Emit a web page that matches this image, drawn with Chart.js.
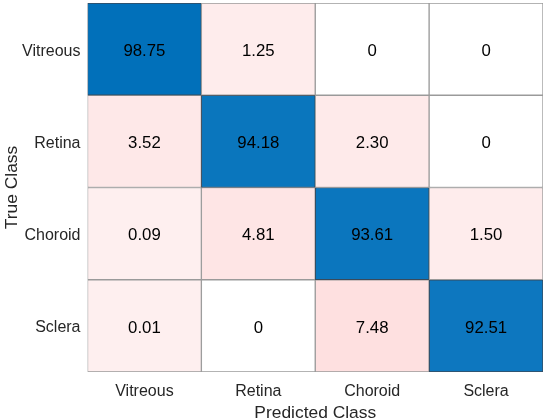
<!DOCTYPE html>
<html><head><meta charset="utf-8">
<script src="https://cdn.jsdelivr.net/npm/chart.js@4/dist/chart.umd.min.js"></script>
<style>html,body{margin:0;padding:0;background:#fff;}#wrap{width:546px;height:420px;}</style>
</head><body><div id="wrap"><canvas id="c" width="546" height="420"></canvas></div>
<script>
const categories = ['Vitreous', 'Retina', 'Choroid', 'Sclera'];
const vitreousRow = [98.75, 1.25, 0, 0];
const retinaRow = [3.52, 94.18, 2.30, 0];
const choroidRow = [0.09, 4.81, 93.61, 1.50];
const scleraRow = [0.01, 0, 7.48, 92.51];
const rows = [vitreousRow, retinaRow, choroidRow, scleraRow];
const xTitle = 'Predicted Class';
const yTitle = 'True Class';

function cellColor(v, r, c) {
  if (r === c) {
    const t = Math.max(0, Math.min(1, (v - 92) / 7));
    const R = Math.round(14 - 14 * t), G = Math.round(120 - 8 * t), B = Math.round(191 - 5 * t);
    return `rgb(${R},${G},${B})`;
  }
  if (v === 0) return '#ffffff';
  const d = Math.round(16 + 2 * v);
  return `rgb(254,${255 - d},${255 - d})`;
}
function fmt(v) { return v === 0 ? '0' : v.toFixed(2); }

const datasets = rows.map((row, r) => ({
  label: categories[r],
  data: row.map(() => [r, r + 1]),
  values: row,
  backgroundColor: row.map((v, c) => cellColor(v, r, c)),
  borderColor: row.map((v, c) => r === c ? '#3a4a5a' : '#9a9a9a'),
  borderWidth: 1,
  borderSkipped: false,
  barPercentage: 1,
  categoryPercentage: 1,
  grouped: false
}));

const valueLabels = {
  id: 'valueLabels',
  afterDatasetsDraw(chart) {
    const ctx = chart.ctx;
    ctx.save();
    ctx.font = '16.8px "Liberation Sans", Arial, sans-serif';
    ctx.fillStyle = '#000';
    ctx.textAlign = 'center';
    ctx.textBaseline = 'middle';
    chart.data.datasets.forEach((ds, i) => {
      chart.getDatasetMeta(i).data.forEach((el, j) => {
        const cx = el.x;
        const cy = (el.y + el.base) / 2;
        ctx.fillText(fmt(ds.values[j]), cx, cy + 2);
      });
    });
    ctx.restore();
  }
};

const FONT = '"Liberation Sans", Arial, sans-serif';
new Chart(document.getElementById('c'), {
  type: 'bar',
  data: { labels: categories, datasets },
  options: {
    responsive: false,
    animation: false,
    devicePixelRatio: 1,
    layout: { padding: { top: 3, right: 3, left: 2, bottom: 0 } },
    plugins: { legend: { display: false }, tooltip: { enabled: false } },
    scales: {
      x: {
        type: 'category',
        grid: { display: false, drawTicks: false },
        border: { display: false },
        ticks: { color: '#262626', font: { size: 16, family: FONT }, padding: 10 },
        title: { display: true, text: xTitle, color: '#262626', font: { size: 17.4, family: FONT }, padding: { top: 2, bottom: -4 } },
        afterFit(s) { s.height = 48; s.paddingLeft = 0; s.paddingRight = 0; }
      },
      y: {
        type: 'linear',
        min: 0, max: 4, reverse: true,
        grid: { display: false, drawTicks: false },
        border: { display: false },
        afterBuildTicks(s) { s.ticks = categories.map((_, i) => ({ value: i + 0.5 })); },
        ticks: {
          color: '#262626',
          font: { size: 16, family: FONT },
          padding: 7,
          labelOffset: 2,
          callback(v) { return categories[Math.floor(v)]; }
        },
        title: { display: true, text: yTitle, color: '#262626', font: { size: 17.4, family: FONT }, padding: { top: 0, bottom: 0 } },
        afterFit(s) { s.width = 85.5; s.paddingTop = 0; s.paddingBottom = 0; }
      }
    }
  },
  plugins: [valueLabels]
});
</script></body></html>
